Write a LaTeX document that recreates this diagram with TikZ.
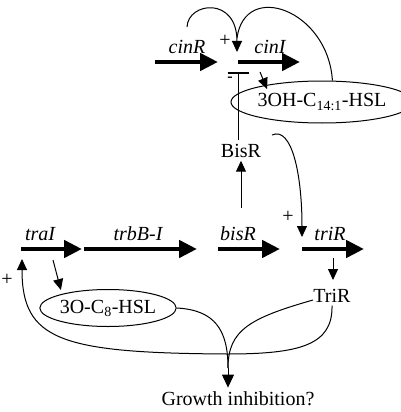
\documentclass[tikz,border=0pt]{standalone}
\usepackage{fontspec}
\setmainfont{Liberation Serif}
\usetikzlibrary{arrows.meta,shapes.geometric}

\begin{document}
\begin{tikzpicture}[x=1pt,y=-1pt,font=\fontsize{20}{24}\selectfont,
  gene/.style={line width=4.5pt,-{Triangle[length=18pt,width=17pt]}},
  reg/.style={line width=1pt,-{Triangle[length=11pt,width=10pt]}},
  link/.style={line width=1pt},
  hsl/.style={draw,ellipse,line width=1pt,inner sep=0pt},
  genename/.style={anchor=base,font=\fontsize{20}{24}\selectfont\itshape},
  prot/.style={anchor=base}]

\useasboundingbox (0,0) rectangle (400,412);

% genes
\foreach \n/\a/\b/\y in {cinR/155/218/62, cinI/238/300/62, traI/21/82/249,
  trbB/84/197/249, bisR/218/280/249, triR/302/364/249}{
\coordinate (\n-s) at (\a,\y);
\coordinate (\n-e) at (\b,\y);
\draw[gene] (\n-s) -- (\n-e);
}

\node[genename] (cinRl) at (187,53) {cinR};
\node[genename] (cinIl) at (270,53) {cinI};
\node[genename] (traIl) at (40,240) {traI};
\node[genename] (trbBl) at (138,240) {trbB-I};
\node[genename] (bisRl) at (238,240) {bisR};
\node[genename] (triRl) at (330,240) {triR};

% signals and proteins
\node[hsl,minimum width=146pt,minimum height=42pt] (hsl14) at (322,102) {3OH-C\textsubscript{14:1}-HSL};
\node[hsl,minimum width=133pt,minimum height=37pt] (hsl8) at (108,308) {3O-C\textsubscript{8}-HSL};
\node[prot] (BisR) at (241,157) {BisR};
\node[prot] (TriR) at (332,302) {TriR};
\node[prot] (grow) at (238,405) {Growth inhibition?};

\node (plusA) at (225,41) {+};
\node (plusB) at (288,217) {+};
\node (plusC) at (7,280) {+};
\node[font=\fontsize{16}{18}\selectfont\bfseries] (minA) at (230,79) {-};

% cin regulation
\coordinate (cinp) at (237,52);
\coordinate (bar) at (238,72);
\draw[reg] (187,27) .. controls (188,2) and (237,-4) .. (cinp);
\draw[link] (hsl14.64) .. controls (328,10) and (245,-20) .. (237,38);
\draw[reg] (260,72) -- (267,89);
\draw[line width=1pt,-{Bar[width=21pt,line width=2pt]}] (bar |- BisR.north) -- (bar);
\draw[reg] (241,208) -- (BisR.south);
\draw[reg] (272,135) .. controls (292,126) and (302,175) .. (302,237);

% tra / tri
\draw[reg] (333,258) -- (333,280);
\draw[reg,shorten >=4pt] (53,260) -- (hsl8.163);
\draw[reg] (TriR.south) .. controls (333,345) and (300,354) .. (227,354)
  .. controls (60,353) and (22,340) .. (22,259);

% growth
\coordinate (merge) at (228,368);
\draw[link] (hsl8.east) .. controls (215,310) and (228,330) .. (merge);
\draw[link] (313,300) .. controls (250,318) and (228,330) .. (merge);
\draw[line width=1pt,-{Triangle[length=13pt,width=12pt]}] (merge) -- (merge |- grow.north);
\end{tikzpicture}
\end{document}
